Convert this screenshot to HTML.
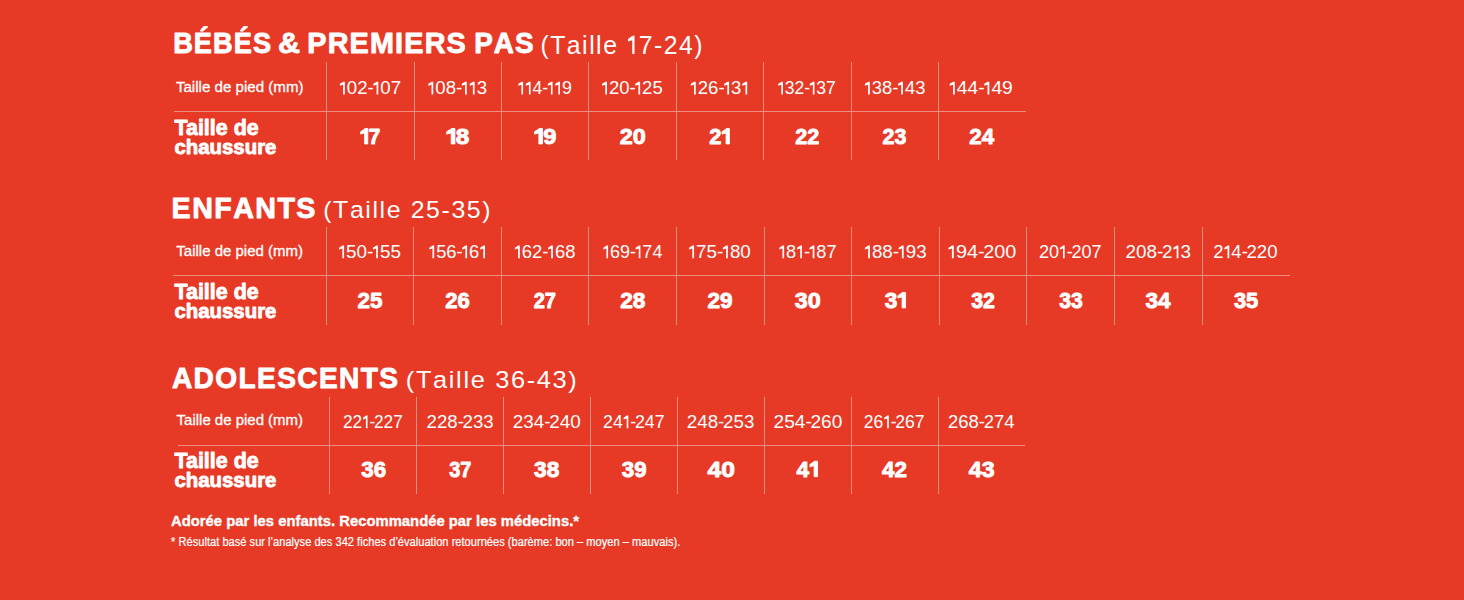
<!DOCTYPE html>
<html><head><meta charset="utf-8"><style>
html,body{margin:0;padding:0;background:#e63a26;width:1464px;height:600px;overflow:hidden}
svg{display:block}
text{font-family:"Liberation Sans",sans-serif;fill:#fff;stroke-linejoin:round}
</style></head><body>
<svg width="1464" height="600" viewBox="0 0 1464 600">
<rect width="1464" height="600" fill="#e63a26"/>
<g transform="translate(173.17,53.05) scale(0.9077,1)"><text x="0.00" y="0" font-size="29.94" font-weight="bold" stroke="#fff" stroke-width="0.9">B</text><text x="22.82" y="0" font-size="29.94" font-weight="bold" stroke="#fff" stroke-width="0.9">É</text><text x="43.99" y="0" font-size="29.94" font-weight="bold" stroke="#fff" stroke-width="0.9">B</text><text x="66.82" y="0" font-size="29.94" font-weight="bold" stroke="#fff" stroke-width="0.9">É</text><text x="87.99" y="0" font-size="29.94" font-weight="bold" stroke="#fff" stroke-width="0.9">S</text></g>
<g transform="translate(277.89,53.05) scale(1.0192,1)"><text x="0.00" y="0" font-size="29.94" font-weight="bold" stroke="#fff" stroke-width="0.9">&amp;</text></g>
<g transform="translate(307.29,53.05) scale(0.9619,1)"><text x="0.00" y="0" font-size="29.94" font-weight="bold" stroke="#fff" stroke-width="0.9">P</text><text x="21.17" y="0" font-size="29.94" font-weight="bold" stroke="#fff" stroke-width="0.9">R</text><text x="43.99" y="0" font-size="29.94" font-weight="bold" stroke="#fff" stroke-width="0.9">E</text><text x="65.17" y="0" font-size="29.94" font-weight="bold" stroke="#fff" stroke-width="0.9">M</text><text x="91.31" y="0" font-size="29.94" font-weight="bold" stroke="#fff" stroke-width="0.9">I</text><text x="100.83" y="0" font-size="29.94" font-weight="bold" stroke="#fff" stroke-width="0.9">E</text><text x="122.00" y="0" font-size="29.94" font-weight="bold" stroke="#fff" stroke-width="0.9">R</text><text x="144.82" y="0" font-size="29.94" font-weight="bold" stroke="#fff" stroke-width="0.9">S</text></g>
<g transform="translate(474.14,53.05) scale(0.9309,1)"><text x="0.00" y="0" font-size="29.94" font-weight="bold" stroke="#fff" stroke-width="0.9">P</text><text x="21.17" y="0" font-size="29.94" font-weight="bold" stroke="#fff" stroke-width="0.9">A</text><text x="43.99" y="0" font-size="29.94" font-weight="bold" stroke="#fff" stroke-width="0.9">S</text></g>
<g transform="translate(540.45,54.00) scale(0.9368,1)"><text x="0.00" y="0" font-size="26.45" font-weight="normal">(</text><text x="10.41" y="0" font-size="26.45" font-weight="normal">T</text><text x="28.17" y="0" font-size="26.45" font-weight="normal">a</text><text x="44.48" y="0" font-size="26.45" font-weight="normal">i</text><text x="51.96" y="0" font-size="26.45" font-weight="normal">l</text><text x="59.44" y="0" font-size="26.45" font-weight="normal">l</text><text x="66.91" y="0" font-size="26.45" font-weight="normal">e</text><path d="M98.33,-18.20 L100.41,-18.20 L100.41,0.00 L97.96,0.00 L97.96,-13.74 L93.41,-12.38 L93.41,-15.11Z" fill="#fff"/><text x="104.89" y="0" font-size="26.45" font-weight="normal">7</text><text x="121.20" y="0" font-size="26.45" font-weight="normal">-</text><text x="131.61" y="0" font-size="26.45" font-weight="normal">2</text><text x="147.92" y="0" font-size="26.45" font-weight="normal">4</text><text x="164.23" y="0" font-size="26.45" font-weight="normal">)</text></g>
<g transform="translate(171.59,218.25) scale(0.9525,1)"><text x="0.00" y="0" font-size="30.09" font-weight="bold" stroke="#fff" stroke-width="0.9">E</text><text x="21.57" y="0" font-size="30.09" font-weight="bold" stroke="#fff" stroke-width="0.9">N</text><text x="44.80" y="0" font-size="30.09" font-weight="bold" stroke="#fff" stroke-width="0.9">F</text><text x="64.68" y="0" font-size="30.09" font-weight="bold" stroke="#fff" stroke-width="0.9">A</text><text x="87.90" y="0" font-size="30.09" font-weight="bold" stroke="#fff" stroke-width="0.9">N</text><text x="111.13" y="0" font-size="30.09" font-weight="bold" stroke="#fff" stroke-width="0.9">T</text><text x="131.01" y="0" font-size="30.09" font-weight="bold" stroke="#fff" stroke-width="0.9">S</text></g>
<g transform="translate(323.25,217.50) scale(1.0057,1)"><text x="0.00" y="0" font-size="24.71" font-weight="normal">(</text><text x="9.83" y="0" font-size="24.71" font-weight="normal">T</text><text x="26.52" y="0" font-size="24.71" font-weight="normal">a</text><text x="41.86" y="0" font-size="24.71" font-weight="normal">i</text><text x="48.96" y="0" font-size="24.71" font-weight="normal">l</text><text x="56.05" y="0" font-size="24.71" font-weight="normal">l</text><text x="63.14" y="0" font-size="24.71" font-weight="normal">e</text><text x="86.94" y="0" font-size="24.71" font-weight="normal">2</text><text x="102.29" y="0" font-size="24.71" font-weight="normal">5</text><text x="117.63" y="0" font-size="24.71" font-weight="normal">-</text><text x="127.46" y="0" font-size="24.71" font-weight="normal">3</text><text x="142.80" y="0" font-size="24.71" font-weight="normal">5</text><text x="158.14" y="0" font-size="24.71" font-weight="normal">)</text></g>
<g transform="translate(171.92,388.05) scale(0.9332,1)"><text x="0.00" y="0" font-size="30.09" font-weight="bold" stroke="#fff" stroke-width="0.9">A</text><text x="23.23" y="0" font-size="30.09" font-weight="bold" stroke="#fff" stroke-width="0.9">D</text><text x="46.46" y="0" font-size="30.09" font-weight="bold" stroke="#fff" stroke-width="0.9">O</text><text x="71.36" y="0" font-size="30.09" font-weight="bold" stroke="#fff" stroke-width="0.9">L</text><text x="91.24" y="0" font-size="30.09" font-weight="bold" stroke="#fff" stroke-width="0.9">E</text><text x="112.81" y="0" font-size="30.09" font-weight="bold" stroke="#fff" stroke-width="0.9">S</text><text x="134.38" y="0" font-size="30.09" font-weight="bold" stroke="#fff" stroke-width="0.9">C</text><text x="157.60" y="0" font-size="30.09" font-weight="bold" stroke="#fff" stroke-width="0.9">E</text><text x="179.17" y="0" font-size="30.09" font-weight="bold" stroke="#fff" stroke-width="0.9">N</text><text x="202.40" y="0" font-size="30.09" font-weight="bold" stroke="#fff" stroke-width="0.9">T</text><text x="222.28" y="0" font-size="30.09" font-weight="bold" stroke="#fff" stroke-width="0.9">S</text></g>
<g transform="translate(405.81,388.00) scale(1.0277,1)"><text x="0.00" y="0" font-size="24.71" font-weight="normal">(</text><text x="9.83" y="0" font-size="24.71" font-weight="normal">T</text><text x="26.52" y="0" font-size="24.71" font-weight="normal">a</text><text x="41.86" y="0" font-size="24.71" font-weight="normal">i</text><text x="48.96" y="0" font-size="24.71" font-weight="normal">l</text><text x="56.05" y="0" font-size="24.71" font-weight="normal">l</text><text x="63.14" y="0" font-size="24.71" font-weight="normal">e</text><text x="86.94" y="0" font-size="24.71" font-weight="normal">3</text><text x="102.29" y="0" font-size="24.71" font-weight="normal">6</text><text x="117.63" y="0" font-size="24.71" font-weight="normal">-</text><text x="127.46" y="0" font-size="24.71" font-weight="normal">4</text><text x="142.80" y="0" font-size="24.71" font-weight="normal">3</text><text x="158.14" y="0" font-size="24.71" font-weight="normal">)</text></g>
<rect x="326" y="62" width="1" height="98" fill="#ef8e7c"/>
<rect x="414" y="62" width="1" height="98" fill="#ef8e7c"/>
<rect x="501" y="62" width="1" height="98" fill="#ef8e7c"/>
<rect x="588" y="62" width="1" height="98" fill="#ef8e7c"/>
<rect x="676" y="62" width="1" height="98" fill="#ef8e7c"/>
<rect x="763" y="62" width="1" height="98" fill="#ef8e7c"/>
<rect x="851" y="62" width="1" height="98" fill="#ef8e7c"/>
<rect x="938" y="62" width="1" height="98" fill="#ef8e7c"/>
<rect x="174" y="111" width="852" height="1" fill="#ef8e7c"/>
<text transform="translate(175.92,91.85) scale(1.0382,1)" font-size="14.55" font-weight="normal" stroke="#fff" stroke-width="0.3">Taille de pied (mm)</text>
<text transform="translate(174.52,135.25) scale(0.9753,1)" font-size="21.96" font-weight="bold" stroke="#fff" stroke-width="0.9">Taille de</text>
<text transform="translate(174.42,153.55) scale(0.9790,1)" font-size="20.83" font-weight="bold" stroke="#fff" stroke-width="0.9">chaussure</text>
<g transform="translate(339.03,94.40) scale(1.0091,1)"><path d="M4.29,-12.71 L5.75,-12.71 L5.75,0.00 L4.04,0.00 L4.04,-9.59 L0.86,-8.64 L0.86,-10.55Z" fill="#fff"/><text x="7.76" y="0" font-size="18.47" font-weight="normal">0</text><text x="18.03" y="0" font-size="18.47" font-weight="normal">2</text><text x="28.30" y="0" font-size="18.47" font-weight="normal">-</text><path d="M37.45,-12.71 L38.91,-12.71 L38.91,0.00 L37.20,0.00 L37.20,-9.59 L34.02,-8.64 L34.02,-10.55Z" fill="#fff"/><text x="40.92" y="0" font-size="18.47" font-weight="normal">0</text><text x="51.19" y="0" font-size="18.47" font-weight="normal">7</text></g>
<g transform="translate(359.95,143.95) scale(0.9508,1)"><path d="M5.37,-15.39 L8.25,-15.39 L8.25,0.00 L4.87,0.00 L4.87,-11.00 L0.71,-9.85 L0.71,-12.16Z" fill="#fff" stroke="#fff" stroke-width="0.9" stroke-linejoin="round"/><text x="8.96" y="0" font-size="22.37" font-weight="bold" stroke="#fff" stroke-width="0.9">7</text></g>
<g transform="translate(427.43,94.40) scale(1.0108,1)"><path d="M4.29,-12.71 L5.75,-12.71 L5.75,0.00 L4.04,0.00 L4.04,-9.59 L0.86,-8.64 L0.86,-10.55Z" fill="#fff"/><text x="7.76" y="0" font-size="18.47" font-weight="normal">0</text><text x="18.03" y="0" font-size="18.47" font-weight="normal">8</text><text x="28.30" y="0" font-size="18.47" font-weight="normal">-</text><path d="M37.45,-12.71 L38.91,-12.71 L38.91,0.00 L37.20,0.00 L37.20,-9.59 L34.02,-8.64 L34.02,-10.55Z" fill="#fff"/><path d="M45.21,-12.71 L46.67,-12.71 L46.67,0.00 L44.95,0.00 L44.95,-9.59 L41.78,-8.64 L41.78,-10.55Z" fill="#fff"/><text x="48.68" y="0" font-size="18.47" font-weight="normal">3</text></g>
<g transform="translate(445.91,143.95) scale(1.0912,1)"><path d="M5.37,-15.39 L8.25,-15.39 L8.25,0.00 L4.87,0.00 L4.87,-11.00 L0.71,-9.85 L0.71,-12.16Z" fill="#fff" stroke="#fff" stroke-width="0.9" stroke-linejoin="round"/><text x="8.96" y="0" font-size="22.37" font-weight="bold" stroke="#fff" stroke-width="0.9">8</text></g>
<g transform="translate(517.57,94.40) scale(0.9612,1)"><path d="M4.29,-12.71 L5.75,-12.71 L5.75,0.00 L4.04,0.00 L4.04,-9.59 L0.86,-8.64 L0.86,-10.55Z" fill="#fff"/><path d="M12.05,-12.71 L13.51,-12.71 L13.51,0.00 L11.79,0.00 L11.79,-9.59 L8.62,-8.64 L8.62,-10.55Z" fill="#fff"/><text x="15.51" y="0" font-size="18.47" font-weight="normal">4</text><text x="25.79" y="0" font-size="18.47" font-weight="normal">-</text><path d="M34.94,-12.71 L36.40,-12.71 L36.40,0.00 L34.68,0.00 L34.68,-9.59 L31.50,-8.64 L31.50,-10.55Z" fill="#fff"/><path d="M42.70,-12.71 L44.15,-12.71 L44.15,0.00 L42.44,0.00 L42.44,-9.59 L39.26,-8.64 L39.26,-10.55Z" fill="#fff"/><text x="46.16" y="0" font-size="18.47" font-weight="normal">9</text></g>
<g transform="translate(533.72,143.95) scale(1.0586,1)"><path d="M5.37,-15.39 L8.25,-15.39 L8.25,0.00 L4.87,0.00 L4.87,-11.00 L0.71,-9.85 L0.71,-12.16Z" fill="#fff" stroke="#fff" stroke-width="0.9" stroke-linejoin="round"/><text x="8.96" y="0" font-size="22.37" font-weight="bold" stroke="#fff" stroke-width="0.9">9</text></g>
<g transform="translate(601.24,94.40) scale(0.9993,1)"><path d="M4.29,-12.71 L5.75,-12.71 L5.75,0.00 L4.04,0.00 L4.04,-9.59 L0.86,-8.64 L0.86,-10.55Z" fill="#fff"/><text x="7.76" y="0" font-size="18.47" font-weight="normal">2</text><text x="18.03" y="0" font-size="18.47" font-weight="normal">0</text><text x="28.30" y="0" font-size="18.47" font-weight="normal">-</text><path d="M37.45,-12.71 L38.91,-12.71 L38.91,0.00 L37.20,0.00 L37.20,-9.59 L34.02,-8.64 L34.02,-10.55Z" fill="#fff"/><text x="40.92" y="0" font-size="18.47" font-weight="normal">2</text><text x="51.19" y="0" font-size="18.47" font-weight="normal">5</text></g>
<g transform="translate(619.65,143.95) scale(1.0467,1)"><text x="0.00" y="0" font-size="22.37" font-weight="bold" stroke="#fff" stroke-width="0.9">2</text><text x="12.44" y="0" font-size="22.37" font-weight="bold" stroke="#fff" stroke-width="0.9">0</text></g>
<g transform="translate(689.94,94.40) scale(1.0056,1)"><path d="M4.29,-12.71 L5.75,-12.71 L5.75,0.00 L4.04,0.00 L4.04,-9.59 L0.86,-8.64 L0.86,-10.55Z" fill="#fff"/><text x="7.76" y="0" font-size="18.47" font-weight="normal">2</text><text x="18.03" y="0" font-size="18.47" font-weight="normal">6</text><text x="28.30" y="0" font-size="18.47" font-weight="normal">-</text><path d="M37.45,-12.71 L38.91,-12.71 L38.91,0.00 L37.20,0.00 L37.20,-9.59 L34.02,-8.64 L34.02,-10.55Z" fill="#fff"/><text x="40.92" y="0" font-size="18.47" font-weight="normal">3</text><path d="M55.48,-12.71 L56.94,-12.71 L56.94,0.00 L55.23,0.00 L55.23,-9.59 L52.05,-8.64 L52.05,-10.55Z" fill="#fff"/></g>
<g transform="translate(709.18,143.95) scale(0.9755,1)"><text x="0.00" y="0" font-size="22.37" font-weight="bold" stroke="#fff" stroke-width="0.9">2</text><path d="M17.81,-15.39 L20.69,-15.39 L20.69,0.00 L17.31,0.00 L17.31,-11.00 L13.15,-9.85 L13.15,-12.16Z" fill="#fff" stroke="#fff" stroke-width="0.9" stroke-linejoin="round"/></g>
<g transform="translate(777.48,94.40) scale(0.9504,1)"><path d="M4.29,-12.71 L5.75,-12.71 L5.75,0.00 L4.04,0.00 L4.04,-9.59 L0.86,-8.64 L0.86,-10.55Z" fill="#fff"/><text x="7.76" y="0" font-size="18.47" font-weight="normal">3</text><text x="18.03" y="0" font-size="18.47" font-weight="normal">2</text><text x="28.30" y="0" font-size="18.47" font-weight="normal">-</text><path d="M37.45,-12.71 L38.91,-12.71 L38.91,0.00 L37.20,0.00 L37.20,-9.59 L34.02,-8.64 L34.02,-10.55Z" fill="#fff"/><text x="40.92" y="0" font-size="18.47" font-weight="normal">3</text><text x="51.19" y="0" font-size="18.47" font-weight="normal">7</text></g>
<g transform="translate(795.18,143.95) scale(0.9636,1)"><text x="0.00" y="0" font-size="22.37" font-weight="bold" stroke="#fff" stroke-width="0.9">2</text><text x="12.44" y="0" font-size="22.37" font-weight="bold" stroke="#fff" stroke-width="0.9">2</text></g>
<g transform="translate(864.04,94.40) scale(0.9984,1)"><path d="M4.29,-12.71 L5.75,-12.71 L5.75,0.00 L4.04,0.00 L4.04,-9.59 L0.86,-8.64 L0.86,-10.55Z" fill="#fff"/><text x="7.76" y="0" font-size="18.47" font-weight="normal">3</text><text x="18.03" y="0" font-size="18.47" font-weight="normal">8</text><text x="28.30" y="0" font-size="18.47" font-weight="normal">-</text><path d="M37.45,-12.71 L38.91,-12.71 L38.91,0.00 L37.20,0.00 L37.20,-9.59 L34.02,-8.64 L34.02,-10.55Z" fill="#fff"/><text x="40.92" y="0" font-size="18.47" font-weight="normal">4</text><text x="51.19" y="0" font-size="18.47" font-weight="normal">3</text></g>
<g transform="translate(882.48,143.95) scale(0.9592,1)"><text x="0.00" y="0" font-size="22.37" font-weight="bold" stroke="#fff" stroke-width="0.9">2</text><text x="12.44" y="0" font-size="22.37" font-weight="bold" stroke="#fff" stroke-width="0.9">3</text></g>
<g transform="translate(948.81,94.40) scale(1.0410,1)"><path d="M4.29,-12.71 L5.75,-12.71 L5.75,0.00 L4.04,0.00 L4.04,-9.59 L0.86,-8.64 L0.86,-10.55Z" fill="#fff"/><text x="7.76" y="0" font-size="18.47" font-weight="normal">4</text><text x="18.03" y="0" font-size="18.47" font-weight="normal">4</text><text x="28.30" y="0" font-size="18.47" font-weight="normal">-</text><path d="M37.45,-12.71 L38.91,-12.71 L38.91,0.00 L37.20,0.00 L37.20,-9.59 L34.02,-8.64 L34.02,-10.55Z" fill="#fff"/><text x="40.92" y="0" font-size="18.47" font-weight="normal">4</text><text x="51.19" y="0" font-size="18.47" font-weight="normal">9</text></g>
<g transform="translate(969.27,143.95) scale(0.9977,1)"><text x="0.00" y="0" font-size="22.37" font-weight="bold" stroke="#fff" stroke-width="0.9">2</text><text x="12.44" y="0" font-size="22.37" font-weight="bold" stroke="#fff" stroke-width="0.9">4</text></g>
<rect x="326" y="227" width="1" height="98" fill="#ef8e7c"/>
<rect x="413" y="227" width="1" height="98" fill="#ef8e7c"/>
<rect x="501" y="227" width="1" height="98" fill="#ef8e7c"/>
<rect x="588" y="227" width="1" height="98" fill="#ef8e7c"/>
<rect x="676" y="227" width="1" height="98" fill="#ef8e7c"/>
<rect x="764" y="227" width="1" height="98" fill="#ef8e7c"/>
<rect x="851" y="227" width="1" height="98" fill="#ef8e7c"/>
<rect x="939" y="227" width="1" height="98" fill="#ef8e7c"/>
<rect x="1026" y="227" width="1" height="98" fill="#ef8e7c"/>
<rect x="1114" y="227" width="1" height="98" fill="#ef8e7c"/>
<rect x="1202" y="227" width="1" height="98" fill="#ef8e7c"/>
<rect x="173" y="275" width="1117" height="1" fill="#ef8e7c"/>
<text transform="translate(176.32,255.65) scale(1.0317,1)" font-size="14.55" font-weight="normal" stroke="#fff" stroke-width="0.3">Taille de pied (mm)</text>
<text transform="translate(174.52,298.85) scale(0.9753,1)" font-size="21.96" font-weight="bold" stroke="#fff" stroke-width="0.9">Taille de</text>
<text transform="translate(174.42,317.55) scale(0.9790,1)" font-size="20.83" font-weight="bold" stroke="#fff" stroke-width="0.9">chaussure</text>
<g transform="translate(338.22,258.20) scale(1.0193,1)"><path d="M4.29,-12.71 L5.75,-12.71 L5.75,0.00 L4.04,0.00 L4.04,-9.59 L0.86,-8.64 L0.86,-10.55Z" fill="#fff"/><text x="7.76" y="0" font-size="18.47" font-weight="normal">5</text><text x="18.03" y="0" font-size="18.47" font-weight="normal">0</text><text x="28.30" y="0" font-size="18.47" font-weight="normal">-</text><path d="M37.45,-12.71 L38.91,-12.71 L38.91,0.00 L37.20,0.00 L37.20,-9.59 L34.02,-8.64 L34.02,-10.55Z" fill="#fff"/><text x="40.92" y="0" font-size="18.47" font-weight="normal">5</text><text x="51.19" y="0" font-size="18.47" font-weight="normal">5</text></g>
<g transform="translate(357.47,307.85) scale(1.0018,1)"><text x="0.00" y="0" font-size="22.37" font-weight="bold" stroke="#fff" stroke-width="0.9">2</text><text x="12.44" y="0" font-size="22.37" font-weight="bold" stroke="#fff" stroke-width="0.9">5</text></g>
<g transform="translate(428.45,258.20) scale(0.9932,1)"><path d="M4.29,-12.71 L5.75,-12.71 L5.75,0.00 L4.04,0.00 L4.04,-9.59 L0.86,-8.64 L0.86,-10.55Z" fill="#fff"/><text x="7.76" y="0" font-size="18.47" font-weight="normal">5</text><text x="18.03" y="0" font-size="18.47" font-weight="normal">6</text><text x="28.30" y="0" font-size="18.47" font-weight="normal">-</text><path d="M37.45,-12.71 L38.91,-12.71 L38.91,0.00 L37.20,0.00 L37.20,-9.59 L34.02,-8.64 L34.02,-10.55Z" fill="#fff"/><text x="40.92" y="0" font-size="18.47" font-weight="normal">6</text><path d="M55.48,-12.71 L56.94,-12.71 L56.94,0.00 L55.23,0.00 L55.23,-9.59 L52.05,-8.64 L52.05,-10.55Z" fill="#fff"/></g>
<g transform="translate(445.17,307.85) scale(0.9881,1)"><text x="0.00" y="0" font-size="22.37" font-weight="bold" stroke="#fff" stroke-width="0.9">2</text><text x="12.44" y="0" font-size="22.37" font-weight="bold" stroke="#fff" stroke-width="0.9">6</text></g>
<g transform="translate(514.04,258.20) scale(0.9984,1)"><path d="M4.29,-12.71 L5.75,-12.71 L5.75,0.00 L4.04,0.00 L4.04,-9.59 L0.86,-8.64 L0.86,-10.55Z" fill="#fff"/><text x="7.76" y="0" font-size="18.47" font-weight="normal">6</text><text x="18.03" y="0" font-size="18.47" font-weight="normal">2</text><text x="28.30" y="0" font-size="18.47" font-weight="normal">-</text><path d="M37.45,-12.71 L38.91,-12.71 L38.91,0.00 L37.20,0.00 L37.20,-9.59 L34.02,-8.64 L34.02,-10.55Z" fill="#fff"/><text x="40.92" y="0" font-size="18.47" font-weight="normal">6</text><text x="51.19" y="0" font-size="18.47" font-weight="normal">8</text></g>
<g transform="translate(533.70,307.85) scale(0.8951,1)"><text x="0.00" y="0" font-size="22.37" font-weight="bold" stroke="#fff" stroke-width="0.9">2</text><text x="12.44" y="0" font-size="22.37" font-weight="bold" stroke="#fff" stroke-width="0.9">7</text></g>
<g transform="translate(602.46,258.20) scale(0.9755,1)"><path d="M4.29,-12.71 L5.75,-12.71 L5.75,0.00 L4.04,0.00 L4.04,-9.59 L0.86,-8.64 L0.86,-10.55Z" fill="#fff"/><text x="7.76" y="0" font-size="18.47" font-weight="normal">6</text><text x="18.03" y="0" font-size="18.47" font-weight="normal">9</text><text x="28.30" y="0" font-size="18.47" font-weight="normal">-</text><path d="M37.45,-12.71 L38.91,-12.71 L38.91,0.00 L37.20,0.00 L37.20,-9.59 L34.02,-8.64 L34.02,-10.55Z" fill="#fff"/><text x="40.92" y="0" font-size="18.47" font-weight="normal">7</text><text x="51.19" y="0" font-size="18.47" font-weight="normal">4</text></g>
<g transform="translate(620.16,307.85) scale(1.0165,1)"><text x="0.00" y="0" font-size="22.37" font-weight="bold" stroke="#fff" stroke-width="0.9">2</text><text x="12.44" y="0" font-size="22.37" font-weight="bold" stroke="#fff" stroke-width="0.9">8</text></g>
<g transform="translate(688.22,258.20) scale(1.0185,1)"><path d="M4.29,-12.71 L5.75,-12.71 L5.75,0.00 L4.04,0.00 L4.04,-9.59 L0.86,-8.64 L0.86,-10.55Z" fill="#fff"/><text x="7.76" y="0" font-size="18.47" font-weight="normal">7</text><text x="18.03" y="0" font-size="18.47" font-weight="normal">5</text><text x="28.30" y="0" font-size="18.47" font-weight="normal">-</text><path d="M37.45,-12.71 L38.91,-12.71 L38.91,0.00 L37.20,0.00 L37.20,-9.59 L34.02,-8.64 L34.02,-10.55Z" fill="#fff"/><text x="40.92" y="0" font-size="18.47" font-weight="normal">8</text><text x="51.19" y="0" font-size="18.47" font-weight="normal">0</text></g>
<g transform="translate(707.46,307.85) scale(1.0088,1)"><text x="0.00" y="0" font-size="22.37" font-weight="bold" stroke="#fff" stroke-width="0.9">2</text><text x="12.44" y="0" font-size="22.37" font-weight="bold" stroke="#fff" stroke-width="0.9">9</text></g>
<g transform="translate(778.45,258.20) scale(0.9870,1)"><path d="M4.29,-12.71 L5.75,-12.71 L5.75,0.00 L4.04,0.00 L4.04,-9.59 L0.86,-8.64 L0.86,-10.55Z" fill="#fff"/><text x="7.76" y="0" font-size="18.47" font-weight="normal">8</text><path d="M22.32,-12.71 L23.78,-12.71 L23.78,0.00 L22.07,0.00 L22.07,-9.59 L18.89,-8.64 L18.89,-10.55Z" fill="#fff"/><text x="25.79" y="0" font-size="18.47" font-weight="normal">-</text><path d="M34.94,-12.71 L36.40,-12.71 L36.40,0.00 L34.68,0.00 L34.68,-9.59 L31.50,-8.64 L31.50,-10.55Z" fill="#fff"/><text x="38.40" y="0" font-size="18.47" font-weight="normal">8</text><text x="48.68" y="0" font-size="18.47" font-weight="normal">7</text></g>
<g transform="translate(794.74,307.85) scale(1.0429,1)"><text x="0.00" y="0" font-size="22.37" font-weight="bold" stroke="#fff" stroke-width="0.9">3</text><text x="12.44" y="0" font-size="22.37" font-weight="bold" stroke="#fff" stroke-width="0.9">0</text></g>
<g transform="translate(864.02,258.20) scale(1.0184,1)"><path d="M4.29,-12.71 L5.75,-12.71 L5.75,0.00 L4.04,0.00 L4.04,-9.59 L0.86,-8.64 L0.86,-10.55Z" fill="#fff"/><text x="7.76" y="0" font-size="18.47" font-weight="normal">8</text><text x="18.03" y="0" font-size="18.47" font-weight="normal">8</text><text x="28.30" y="0" font-size="18.47" font-weight="normal">-</text><path d="M37.45,-12.71 L38.91,-12.71 L38.91,0.00 L37.20,0.00 L37.20,-9.59 L34.02,-8.64 L34.02,-10.55Z" fill="#fff"/><text x="40.92" y="0" font-size="18.47" font-weight="normal">9</text><text x="51.19" y="0" font-size="18.47" font-weight="normal">3</text></g>
<g transform="translate(884.65,307.85) scale(1.0100,1)"><text x="0.00" y="0" font-size="22.37" font-weight="bold" stroke="#fff" stroke-width="0.9">3</text><path d="M17.81,-15.39 L20.69,-15.39 L20.69,0.00 L17.31,0.00 L17.31,-11.00 L13.15,-9.85 L13.15,-12.16Z" fill="#fff" stroke="#fff" stroke-width="0.9" stroke-linejoin="round"/></g>
<g transform="translate(947.58,258.20) scale(1.0736,1)"><path d="M4.29,-12.71 L5.75,-12.71 L5.75,0.00 L4.04,0.00 L4.04,-9.59 L0.86,-8.64 L0.86,-10.55Z" fill="#fff"/><text x="7.76" y="0" font-size="18.47" font-weight="normal">9</text><text x="18.03" y="0" font-size="18.47" font-weight="normal">4</text><text x="28.30" y="0" font-size="18.47" font-weight="normal">-</text><text x="33.16" y="0" font-size="18.47" font-weight="normal">2</text><text x="43.43" y="0" font-size="18.47" font-weight="normal">0</text><text x="53.71" y="0" font-size="18.47" font-weight="normal">0</text></g>
<g transform="translate(971.15,307.85) scale(0.9526,1)"><text x="0.00" y="0" font-size="22.37" font-weight="bold" stroke="#fff" stroke-width="0.9">3</text><text x="12.44" y="0" font-size="22.37" font-weight="bold" stroke="#fff" stroke-width="0.9">2</text></g>
<g transform="translate(1038.89,258.20) scale(0.9805,1)"><text x="0.00" y="0" font-size="18.47" font-weight="normal">2</text><text x="10.27" y="0" font-size="18.47" font-weight="normal">0</text><path d="M24.84,-12.71 L26.30,-12.71 L26.30,0.00 L24.58,0.00 L24.58,-9.59 L21.40,-8.64 L21.40,-10.55Z" fill="#fff"/><text x="28.30" y="0" font-size="18.47" font-weight="normal">-</text><text x="33.16" y="0" font-size="18.47" font-weight="normal">2</text><text x="43.43" y="0" font-size="18.47" font-weight="normal">0</text><text x="53.71" y="0" font-size="18.47" font-weight="normal">7</text></g>
<g transform="translate(1059.15,307.85) scale(0.9441,1)"><text x="0.00" y="0" font-size="22.37" font-weight="bold" stroke="#fff" stroke-width="0.9">3</text><text x="12.44" y="0" font-size="22.37" font-weight="bold" stroke="#fff" stroke-width="0.9">3</text></g>
<g transform="translate(1125.56,258.20) scale(1.0217,1)"><text x="0.00" y="0" font-size="18.47" font-weight="normal">2</text><text x="10.27" y="0" font-size="18.47" font-weight="normal">0</text><text x="20.55" y="0" font-size="18.47" font-weight="normal">8</text><text x="30.82" y="0" font-size="18.47" font-weight="normal">-</text><text x="35.68" y="0" font-size="18.47" font-weight="normal">2</text><path d="M50.24,-12.71 L51.70,-12.71 L51.70,0.00 L49.99,0.00 L49.99,-9.59 L46.81,-8.64 L46.81,-10.55Z" fill="#fff"/><text x="53.71" y="0" font-size="18.47" font-weight="normal">3</text></g>
<g transform="translate(1145.45,307.85) scale(1.0064,1)"><text x="0.00" y="0" font-size="22.37" font-weight="bold" stroke="#fff" stroke-width="0.9">3</text><text x="12.44" y="0" font-size="22.37" font-weight="bold" stroke="#fff" stroke-width="0.9">4</text></g>
<g transform="translate(1213.17,258.20) scale(1.0058,1)"><text x="0.00" y="0" font-size="18.47" font-weight="normal">2</text><path d="M14.57,-12.71 L16.02,-12.71 L16.02,0.00 L14.31,0.00 L14.31,-9.59 L11.13,-8.64 L11.13,-10.55Z" fill="#fff"/><text x="18.03" y="0" font-size="18.47" font-weight="normal">4</text><text x="28.30" y="0" font-size="18.47" font-weight="normal">-</text><text x="33.16" y="0" font-size="18.47" font-weight="normal">2</text><text x="43.43" y="0" font-size="18.47" font-weight="normal">2</text><text x="53.71" y="0" font-size="18.47" font-weight="normal">0</text></g>
<g transform="translate(1233.95,307.85) scale(0.9742,1)"><text x="0.00" y="0" font-size="22.37" font-weight="bold" stroke="#fff" stroke-width="0.9">3</text><text x="12.44" y="0" font-size="22.37" font-weight="bold" stroke="#fff" stroke-width="0.9">5</text></g>
<rect x="329" y="397" width="1" height="97" fill="#ef8e7c"/>
<rect x="416" y="397" width="1" height="97" fill="#ef8e7c"/>
<rect x="503" y="397" width="1" height="97" fill="#ef8e7c"/>
<rect x="590" y="397" width="1" height="97" fill="#ef8e7c"/>
<rect x="677" y="397" width="1" height="97" fill="#ef8e7c"/>
<rect x="764" y="397" width="1" height="97" fill="#ef8e7c"/>
<rect x="851" y="397" width="1" height="97" fill="#ef8e7c"/>
<rect x="938" y="397" width="1" height="97" fill="#ef8e7c"/>
<rect x="178" y="445" width="847" height="1" fill="#ef8e7c"/>
<text transform="translate(176.62,424.75) scale(1.0292,1)" font-size="14.55" font-weight="normal" stroke="#fff" stroke-width="0.3">Taille de pied (mm)</text>
<text transform="translate(174.52,467.95) scale(0.9753,1)" font-size="21.96" font-weight="bold" stroke="#fff" stroke-width="0.9">Taille de</text>
<text transform="translate(174.42,486.55) scale(0.9790,1)" font-size="20.83" font-weight="bold" stroke="#fff" stroke-width="0.9">chaussure</text>
<g transform="translate(342.94,428.20) scale(0.9354,1)"><text x="0.00" y="0" font-size="18.47" font-weight="normal">2</text><text x="10.27" y="0" font-size="18.47" font-weight="normal">2</text><path d="M24.84,-12.71 L26.30,-12.71 L26.30,0.00 L24.58,0.00 L24.58,-9.59 L21.40,-8.64 L21.40,-10.55Z" fill="#fff"/><text x="28.30" y="0" font-size="18.47" font-weight="normal">-</text><text x="33.16" y="0" font-size="18.47" font-weight="normal">2</text><text x="43.43" y="0" font-size="18.47" font-weight="normal">2</text><text x="53.71" y="0" font-size="18.47" font-weight="normal">7</text></g>
<g transform="translate(361.25,476.65) scale(0.9973,1)"><text x="0.00" y="0" font-size="22.37" font-weight="bold" stroke="#fff" stroke-width="0.9">3</text><text x="12.44" y="0" font-size="22.37" font-weight="bold" stroke="#fff" stroke-width="0.9">6</text></g>
<g transform="translate(426.57,428.20) scale(1.0083,1)"><text x="0.00" y="0" font-size="18.47" font-weight="normal">2</text><text x="10.27" y="0" font-size="18.47" font-weight="normal">2</text><text x="20.55" y="0" font-size="18.47" font-weight="normal">8</text><text x="30.82" y="0" font-size="18.47" font-weight="normal">-</text><text x="35.68" y="0" font-size="18.47" font-weight="normal">2</text><text x="45.95" y="0" font-size="18.47" font-weight="normal">3</text><text x="56.22" y="0" font-size="18.47" font-weight="normal">3</text></g>
<g transform="translate(449.15,476.65) scale(0.8889,1)"><text x="0.00" y="0" font-size="22.37" font-weight="bold" stroke="#fff" stroke-width="0.9">3</text><text x="12.44" y="0" font-size="22.37" font-weight="bold" stroke="#fff" stroke-width="0.9">7</text></g>
<g transform="translate(512.65,428.20) scale(1.0238,1)"><text x="0.00" y="0" font-size="18.47" font-weight="normal">2</text><text x="10.27" y="0" font-size="18.47" font-weight="normal">3</text><text x="20.55" y="0" font-size="18.47" font-weight="normal">4</text><text x="30.82" y="0" font-size="18.47" font-weight="normal">-</text><text x="35.68" y="0" font-size="18.47" font-weight="normal">2</text><text x="45.95" y="0" font-size="18.47" font-weight="normal">4</text><text x="56.22" y="0" font-size="18.47" font-weight="normal">0</text></g>
<g transform="translate(534.05,476.65) scale(1.0131,1)"><text x="0.00" y="0" font-size="22.37" font-weight="bold" stroke="#fff" stroke-width="0.9">3</text><text x="12.44" y="0" font-size="22.37" font-weight="bold" stroke="#fff" stroke-width="0.9">8</text></g>
<g transform="translate(603.01,428.20) scale(0.9628,1)"><text x="0.00" y="0" font-size="18.47" font-weight="normal">2</text><text x="10.27" y="0" font-size="18.47" font-weight="normal">4</text><path d="M24.84,-12.71 L26.30,-12.71 L26.30,0.00 L24.58,0.00 L24.58,-9.59 L21.40,-8.64 L21.40,-10.55Z" fill="#fff"/><text x="28.30" y="0" font-size="18.47" font-weight="normal">-</text><text x="33.16" y="0" font-size="18.47" font-weight="normal">2</text><text x="43.43" y="0" font-size="18.47" font-weight="normal">4</text><text x="53.71" y="0" font-size="18.47" font-weight="normal">7</text></g>
<g transform="translate(621.85,476.65) scale(0.9932,1)"><text x="0.00" y="0" font-size="22.37" font-weight="bold" stroke="#fff" stroke-width="0.9">3</text><text x="12.44" y="0" font-size="22.37" font-weight="bold" stroke="#fff" stroke-width="0.9">9</text></g>
<g transform="translate(686.86,428.20) scale(1.0145,1)"><text x="0.00" y="0" font-size="18.47" font-weight="normal">2</text><text x="10.27" y="0" font-size="18.47" font-weight="normal">4</text><text x="20.55" y="0" font-size="18.47" font-weight="normal">8</text><text x="30.82" y="0" font-size="18.47" font-weight="normal">-</text><text x="35.68" y="0" font-size="18.47" font-weight="normal">2</text><text x="45.95" y="0" font-size="18.47" font-weight="normal">5</text><text x="56.22" y="0" font-size="18.47" font-weight="normal">3</text></g>
<g transform="translate(707.53,476.65) scale(1.1010,1)"><text x="0.00" y="0" font-size="22.37" font-weight="bold" stroke="#fff" stroke-width="0.9">4</text><text x="12.44" y="0" font-size="22.37" font-weight="bold" stroke="#fff" stroke-width="0.9">0</text></g>
<g transform="translate(773.55,428.20) scale(1.0331,1)"><text x="0.00" y="0" font-size="18.47" font-weight="normal">2</text><text x="10.27" y="0" font-size="18.47" font-weight="normal">5</text><text x="20.55" y="0" font-size="18.47" font-weight="normal">4</text><text x="30.82" y="0" font-size="18.47" font-weight="normal">-</text><text x="35.68" y="0" font-size="18.47" font-weight="normal">2</text><text x="45.95" y="0" font-size="18.47" font-weight="normal">6</text><text x="56.22" y="0" font-size="18.47" font-weight="normal">0</text></g>
<g transform="translate(796.62,476.65) scale(1.0115,1)"><text x="0.00" y="0" font-size="22.37" font-weight="bold" stroke="#fff" stroke-width="0.9">4</text><path d="M17.81,-15.39 L20.69,-15.39 L20.69,0.00 L17.31,0.00 L17.31,-11.00 L13.15,-9.85 L13.15,-12.16Z" fill="#fff" stroke="#fff" stroke-width="0.9" stroke-linejoin="round"/></g>
<g transform="translate(863.82,428.20) scale(0.9499,1)"><text x="0.00" y="0" font-size="18.47" font-weight="normal">2</text><text x="10.27" y="0" font-size="18.47" font-weight="normal">6</text><path d="M24.84,-12.71 L26.30,-12.71 L26.30,0.00 L24.58,0.00 L24.58,-9.59 L21.40,-8.64 L21.40,-10.55Z" fill="#fff"/><text x="28.30" y="0" font-size="18.47" font-weight="normal">-</text><text x="33.16" y="0" font-size="18.47" font-weight="normal">2</text><text x="43.43" y="0" font-size="18.47" font-weight="normal">6</text><text x="53.71" y="0" font-size="18.47" font-weight="normal">7</text></g>
<g transform="translate(882.01,476.65) scale(1.0031,1)"><text x="0.00" y="0" font-size="22.37" font-weight="bold" stroke="#fff" stroke-width="0.9">4</text><text x="12.44" y="0" font-size="22.37" font-weight="bold" stroke="#fff" stroke-width="0.9">2</text></g>
<g transform="translate(948.08,428.20) scale(0.9994,1)"><text x="0.00" y="0" font-size="18.47" font-weight="normal">2</text><text x="10.27" y="0" font-size="18.47" font-weight="normal">6</text><text x="20.55" y="0" font-size="18.47" font-weight="normal">8</text><text x="30.82" y="0" font-size="18.47" font-weight="normal">-</text><text x="35.68" y="0" font-size="18.47" font-weight="normal">2</text><text x="45.95" y="0" font-size="18.47" font-weight="normal">7</text><text x="56.22" y="0" font-size="18.47" font-weight="normal">4</text></g>
<g transform="translate(968.82,476.65) scale(1.0351,1)"><text x="0.00" y="0" font-size="22.37" font-weight="bold" stroke="#fff" stroke-width="0.9">4</text><text x="12.44" y="0" font-size="22.37" font-weight="bold" stroke="#fff" stroke-width="0.9">3</text></g>
<text transform="translate(171.00,525.62) scale(0.9587,1)" font-size="15.49" font-weight="bold" stroke="#fff" stroke-width="0.35">Adorée par les enfants. Recommandée par les médecins.*</text>
<text transform="translate(171.10,545.80) scale(0.9109,1)" font-size="12.22" font-weight="normal" stroke="#fff" stroke-width="0.2">* Résultat basé sur l’analyse des 342 fiches d’évaluation retournées (barème: bon – moyen – mauvais).</text>
</svg>
</body></html>
